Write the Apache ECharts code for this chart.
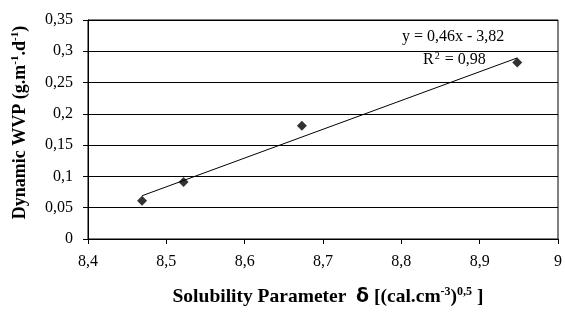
<!DOCTYPE html>
<html><head><meta charset="utf-8">
<script src="https://cdn.jsdelivr.net/npm/echarts@6/dist/echarts.min.js"></script>
<style>html,body{margin:0;padding:0;background:#fff}#c{width:565px;height:312px}</style>
</head><body><div id="c"></div>
<script>
const solubility = [8.469, 8.522, 8.673, 8.948];
const wvp = [0.061, 0.091, 0.181, 0.282];
const xTicks = [8.4, 8.5, 8.6, 8.7, 8.8, 8.9, 9];
const yTicks = [0, 0.05, 0.1, 0.15, 0.2, 0.25, 0.3, 0.35];
const equationText = 'y = 0,46x - 3,82';
const r2Text = '0,98';

// least-squares trend line from the data
const n = solubility.length;
const mx = solubility.reduce((a,b)=>a+b,0)/n;
const my = wvp.reduce((a,b)=>a+b,0)/n;
let sxy=0, sxx=0;
for (let i=0;i<n;i++){ sxy+=(solubility[i]-mx)*(wvp[i]-my); sxx+=(solubility[i]-mx)**2; }
const slope = sxy/sxx, icpt = my - slope*mx;
const xmin = Math.min(...solubility), xmax = Math.max(...solubility);
const trend = [[xmin, slope*xmin+icpt],[xmax, slope*xmax+icpt]];

const fmt = v => (Math.round(v*1000)/1000).toString().replace('.', ',');
const serif = '"Liberation Serif","Times New Roman",serif';

const chart = echarts.init(document.getElementById('c'));
chart.setOption({
  animation:false,
  backgroundColor:'#fff',
  grid:{left:88,right:2,top:20,bottom:71,show:true,borderColor:'#000',borderWidth:1,backgroundColor:'transparent'},
  xAxis:{type:'value',min:xTicks[0],max:xTicks[xTicks.length-1],interval:0.1,
    axisLine:{lineStyle:{color:'#000',width:1}},
    axisTick:{show:true,length:5,lineStyle:{color:'#000'}},
    splitLine:{show:false},
    axisLabel:{formatter:fmt,color:'#000',fontFamily:serif,fontSize:16,margin:15},
    name:'{b|Solubility Parameter  }{d|δ}{b| [(cal.cm}{s|-3}{b|)}{s|0,5}{b| ]}',
    nameLocation:'middle',nameGap:47,
    nameTextStyle:{padding:[0,0,0,10],rich:{
      b:{fontFamily:serif,fontWeight:'bold',fontSize:19.5,lineHeight:22,color:'#000',verticalAlign:'middle'},
      d:{fontFamily:'"DejaVu Sans",sans-serif',fontWeight:'bold',fontSize:19,lineHeight:22,color:'#000',verticalAlign:'middle'},
      s:{fontFamily:serif,fontWeight:'bold',fontSize:12,lineHeight:10,color:'#000',verticalAlign:'top'}
    }}
  },
  yAxis:{type:'value',min:0,max:0.35,interval:0.05,
    axisLine:{show:true,lineStyle:{color:'#000',width:1}},
    axisTick:{show:true,length:5,lineStyle:{color:'#000'}},
    splitLine:{show:true,lineStyle:{color:'#000',width:1}},
    axisLabel:{formatter:fmt,color:'#000',fontFamily:serif,fontSize:16,margin:15},
    name:'{b|Dynamic WVP (g.m}{s|-1}{b|.d}{s|-1}{b|)}',
    nameLocation:'middle',nameGap:58,nameRotate:90,
    nameTextStyle:{padding:[0,0,0,14],rich:{
      b:{fontFamily:serif,fontWeight:'bold',fontSize:18,lineHeight:20,color:'#000',verticalAlign:'middle'},
      s:{fontFamily:serif,fontWeight:'bold',fontSize:11,lineHeight:10,color:'#000',verticalAlign:'top'}
    }}
  },
  series:[
    {type:'line',data:trend,symbol:'none',lineStyle:{color:'#000',width:1},z:2,silent:true},
    {type:'scatter',data:solubility.map((x,i)=>[x,wvp[i]]),symbol:'diamond',symbolSize:10,
      itemStyle:{color:'#000'},z:3}
  ],
  graphic:[
    {type:'text',left:402,top:29,style:{text:equationText,font:'16px '+serif,fill:'#000'}},
    {type:'text',left:423,top:51,style:{text:'{a|R}{s|2}{a| = '+r2Text+'}',rich:{
      a:{fontFamily:serif,fontSize:16,lineHeight:18,color:'#000',verticalAlign:'middle'},
      s:{fontFamily:serif,fontSize:10,lineHeight:4,color:'#000',verticalAlign:'top',padding:[0,1,0,1]}}}}
  ]
});
</script></body></html>
